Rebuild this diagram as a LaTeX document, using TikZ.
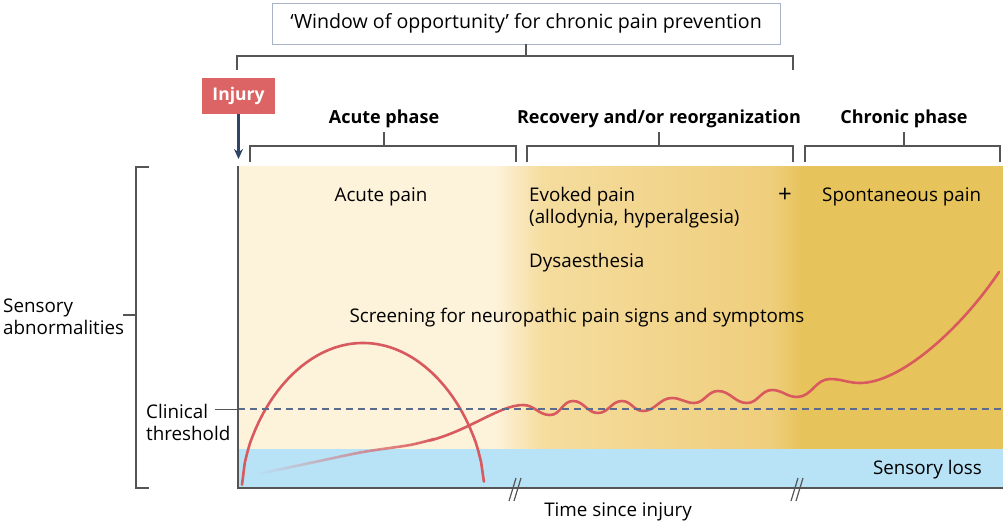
\documentclass[tikz,border=0pt]{standalone}
\usepackage{fontspec}
\setmainfont{Open Sans}
\usetikzlibrary{arrows.meta,fadings}
\definecolor{cream}{HTML}{FDF2DA}
\definecolor{gold1}{HTML}{F5DD9F}
\definecolor{gold2}{HTML}{EFCE7C}
\definecolor{gold3}{HTML}{E7C35C}
\definecolor{skyb}{HTML}{B8E2F6}
\definecolor{painred}{HTML}{D95A5E}
\definecolor{injred}{HTML}{DC6464}
\definecolor{axisg}{HTML}{555555}
\definecolor{dashb}{HTML}{5A6B8C}
\definecolor{navy}{HTML}{2F4466}
\definecolor{boxg}{HTML}{A8B2C8}
\tikzfading[name=fadein, left color=transparent!100, right color=transparent!0]
\begin{document}
\begin{tikzpicture}[x=1pt,y=-1pt,
  txt/.style={font=\fontsize{18.8}{22}\selectfont, inner sep=0pt, text=black},
  boldtxt/.style={font=\fontsize{18}{22}\selectfont\bfseries, inner sep=0pt, text=black},
  brk/.style={axisg, line width=1.2pt},
  curve/.style={painred, line width=2.6pt, line cap=round, line join=round},
  brkmark/.style={axisg, line width=1.2pt}]
\useasboundingbox (0,0) rectangle (1006,524);
% background of plot
\fill[cream] (238,166) rectangle (497,449);
\shade[left color=cream, right color=gold1] (496,166) rectangle (542,449);
\shade[left color=gold1, right color=gold2] (541,166) rectangle (772,449);
\shade[left color=gold2, right color=gold3] (771,166) rectangle (802,449);
\fill[gold3] (801,166) rectangle (1003,449);
\fill[skyb] (238,449) rectangle (1003,488);
% top window box
\node[txt, font=\fontsize{19.6}{22}\selectfont, draw=boxg, line width=0.8pt, minimum width=508pt, minimum height=41pt] (win) at (526,23.5) {‘Window of opportunity’ for chronic pain prevention};
\coordinate (wb) at (526,56);
\draw[brk] (win.south) -- (wb);
\draw[brk] (237,70) -- (237,56) -- (793,56) -- (793,70);
% injury
\node[fill=injred, minimum width=73pt, minimum height=36pt, inner sep=0pt, text=white, font=\fontsize{17.5}{20}\selectfont\bfseries] (inj) at (238.5,96) {Injury};
\coordinate (injt) at (238.5,159);
\draw[navy, line width=2.4pt, -{Stealth[length=10pt,width=9pt]}] (inj.south) -- (injt);
% phase labels
\node[boldtxt] (acute) at (384,119) {Acute phase};
\node[boldtxt] (recov) at (659,119) {Recovery and/or reorganization};
\node[boldtxt] (chron) at (904,119) {Chronic phase};
\coordinate (acb) at (384,146);
\coordinate (reb) at (659,146);
\coordinate (chb) at (904,146);
\draw[brk] ([yshift=-4pt]acute.south) -- (acb);
\draw[brk] ([yshift=-4pt]recov.south) -- (reb);
\draw[brk] ([yshift=-4pt]chron.south) -- (chb);
\draw[brk] (250,162) -- (250,146) -- (516,146) -- (516,162);
\draw[brk] (527,162) -- (527,146) -- (793,146) -- (793,162);
\draw[brk] (805,162) -- (805,146) -- (1000,146) -- (1000,162);
% left bracket
\node[txt, align=left, anchor=west] (sens) at (3,317) {Sensory\\abnormalities};
\coordinate (sb) at (136,315);
\draw[brk] (123,315) -- (sb);
\draw[brk] (149,167) -- (136,167) -- (136,488) -- (149,488);
% texts inside
\node[txt] (acpain) at (381,197) {Acute pain};
\node[txt, align=left, anchor=west] (evoked) at (529,208) {Evoked pain\\(allodynia, hyperalgesia)};
\node[txt, font=\fontsize{24}{24}\selectfont] (plus) at (785,195) {+};
\node[txt, anchor=west] (spont) at (822,197) {Spontaneous pain};
\node[txt, anchor=west] (dys) at (529,263) {Dysaesthesia};
\node[txt] (screen) at (577,318) {Screening for neuropathic pain signs and symptoms};
\node[txt, anchor=east] (loss) at (982,470) {Sensory loss};
\node[txt] (time) at (618,512) {Time since injury};
% clinical threshold
\node[txt, align=left, anchor=west] (clin) at (146,422) {Clinical\\threshold};
\coordinate (thrL) at (215,409);
\coordinate (thrR) at (238,409);
\coordinate (thrE) at (1003,409);
% curves
\draw[curve] plot[domain=-1:1, samples=90] ({363+121*\x}, {485-142*pow(max(1-\x*\x,0.00001),0.6)});
\draw[curve, path fading=fadein] plot[smooth] coordinates {(258,474) (310,463) (363,452) (410,445) (434,439)};
\draw[curve] (430,440.5) .. controls (470,430) and (500,405) .. (523,405)
  to[out=0,in=180] (550,415) to[out=0,in=180] (573,401)
  to[out=0,in=180] (598,413) to[out=0,in=180] (622,401)
  to[out=0,in=180] (643,411) to[out=0,in=180] (672,398)
  to[out=0,in=180] (694,403) to[out=0,in=180] (718,391)
  to[out=0,in=180] (747,403) to[out=0,in=180] (772,390)
  to[out=0,in=180] (797,397) to[out=0,in=180] (830,379)
  to[out=0,in=180] (860,383)
  .. controls (900,383) and (960,330) .. (999,272);
% threshold lines
\draw[axisg, line width=1pt] (thrL) -- (thrR);
\draw[dashb, line width=1.8pt, dash pattern=on 7pt off 5pt] (thrR) -- (thrE);
% axes
\draw[axisg, line width=1.5pt] (238,166) -- (238,488) -- (1003,488);
% break marks
\draw[brkmark] (509,501) -- (516,478);
\draw[brkmark] (514,501) -- (521,478);
\draw[brkmark] (791,501) -- (798,478);
\draw[brkmark] (796,501) -- (803,478);
\end{tikzpicture}
\end{document}
